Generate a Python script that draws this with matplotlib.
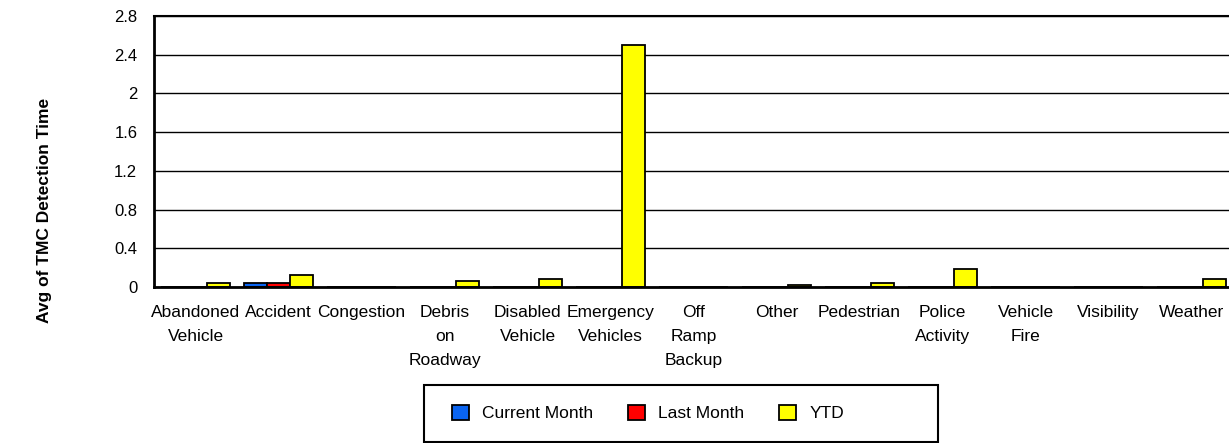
import numpy as np
import matplotlib
matplotlib.use('Agg')
import matplotlib.pyplot as plt
from matplotlib.patches import Rectangle, Patch

plt.rcParams['font.family'] = ['Liberation Sans', 'DejaVu Sans']

# ====== data ======
categories = ["Abandoned\nVehicle", "Accident", "Congestion", "Debris\non\nRoadway",
              "Disabled\nVehicle", "Emergency\nVehicles", "Off\nRamp\nBackup", "Other",
              "Pedestrian", "Police\nActivity", "Vehicle\nFire", "Visibility", "Weather"]
current_month = [0, 0.04, 0, 0, 0, 0, 0, 0, 0, 0, 0, 0, 0]
last_month = [0, 0.04, 0, 0, 0, 0, 0, 0, 0, 0, 0, 0, 0]
ytd = [0.045, 0.124, 0.004, 0.062, 0.083, 2.5, 0, 0.02, 0.045, 0.186, 0, 0, 0.083]
yticks = [0, 0.4, 0.8, 1.2, 1.6, 2, 2.4, 2.8]
ytick_labels = ["0", "0.4", "0.8", "1.2", "1.6", "2", "2.4", "2.8"]
series_names = ["Current Month", "Last Month", "YTD"]
series_colors = ["#0A64F0", "#FF0000", "#FFFF00"]

fig = plt.figure(figsize=(12.29, 4.43), dpi=100)
ax = fig.add_axes([0.1253, 0.3521, 0.878, 0.6117])

x = np.arange(len(categories))
w = 0.28
for i, (vals, col) in enumerate(zip([current_month, last_month, ytd], series_colors)):
    ax.bar(x + (i - 1) * w, vals, width=w, color=col, edgecolor='black',
           linewidth=1.3, zorder=2)

ax.set_xlim(-0.5, len(categories) - 0.5)
ax.set_ylim(0, 2.8)
ax.set_yticks(yticks)
ax.set_yticklabels(ytick_labels, fontsize=12)
ax.set_xticks(x)
ax.set_xticklabels(categories, fontsize=12.5, linespacing=1.75)
ax.tick_params(axis='x', length=0, pad=13)
ax.tick_params(axis='y', length=0, pad=12)
ax.yaxis.grid(True, color='black', linewidth=1.0)
ax.set_axisbelow(True)
for s in ['left', 'bottom']:
    ax.spines[s].set_linewidth(2)
ax.spines['top'].set_linewidth(1.5)
ax.spines['right'].set_visible(False)

fig.text(0.036, 0.525, "Avg of TMC Detection Time", rotation=90, ha='center',
         va='center', fontsize=12.5, fontweight='bold')

# legend box
fig.patches.append(Rectangle((424 / 1229, 1 - 442 / 443), (938 - 424) / 1229, (442 - 385) / 443,
                             transform=fig.transFigure, fill=False, edgecolor='black',
                             linewidth=1.5))
handles = [Patch(facecolor=c, edgecolor='black', linewidth=1.3) for c in series_colors]
fig.legend(handles, series_names, ncol=3, frameon=False, fontsize=12.5,
           loc='center left', bbox_to_anchor=(436 / 1229, 1 - 413 / 443),
           handlelength=1.0, handleheight=1.0, handletextpad=0.75, columnspacing=2.0)

plt.savefig('out.png', dpi=100)
plt.close()
